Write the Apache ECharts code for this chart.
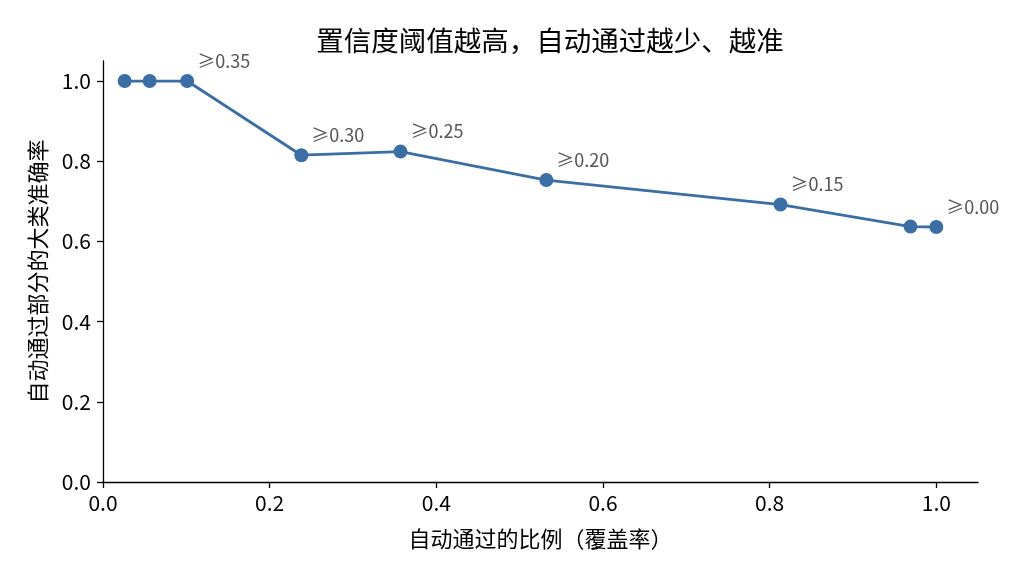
<!DOCTYPE html>
<html>
<head>
<meta charset="utf-8">
<script src="https://cdn.jsdelivr.net/npm/echarts@6/dist/echarts.min.js"></script>
<style>html,body{margin:0;padding:0;background:#fff}#c{width:1024px;height:576px}</style>
</head>
<body>
<div id="c"></div>
<script>
const coverage = [0.026, 0.056, 0.101, 0.238, 0.357, 0.532, 0.813, 0.969, 1.0];
const accuracy = [1.0, 1.0, 1.0, 0.815, 0.824, 0.753, 0.692, 0.637, 0.636];
const thresholdLabels = ['', '', '≥0.35', '≥0.30', '≥0.25', '≥0.20', '≥0.15', '', '≥0.00'];
const xTicks = [0, 0.2, 0.4, 0.6, 0.8, 1.0];
const yTicks = [0, 0.2, 0.4, 0.6, 0.8, 1.0];

const FONT = 'Noto Sans CJK SC';
const COLOR = '#3a6ea5';
const chart = echarts.init(document.getElementById('c'));
const data = coverage.map((x, i) => ({
  value: [x, accuracy[i]],
  label: { show: thresholdLabels[i] !== '', formatter: thresholdLabels[i] }
}));
chart.setOption({
  animation: false,
  textStyle: { fontFamily: FONT },
  title: {
    text: '置信度阈值越高，自动通过越少、越准',
    left: 545, textAlign: 'center', top: 22,
    textStyle: { fontFamily: FONT, fontSize: 27.5, fontWeight: 'normal', color: '#000' }
  },
  grid: { left: 103, right: 46, top: 61, bottom: 94 },
  xAxis: {
    type: 'value', min: 0, max: 1.05,
    name: '自动通过的比例（覆盖率）', nameLocation: 'middle', nameGap: 46,
    nameTextStyle: { fontFamily: FONT, fontSize: 22, color: '#000' },
    axisLine: { lineStyle: { color: '#000', width: 1.3 } },
    axisTick: { show: true, length: 6, inside: false, customValues: xTicks, lineStyle: { color: '#000', width: 1.3 } },
    axisLabel: { customValues: xTicks, formatter: v => v.toFixed(1), fontFamily: FONT, fontSize: 21, color: '#000', margin: 11 },
    splitLine: { show: false }
  },
  yAxis: {
    type: 'value', min: 0, max: 1.05,
    name: '自动通过部分的大类准确率', nameLocation: 'middle', nameGap: 54, nameRotate: 90,
    nameTextStyle: { fontFamily: FONT, fontSize: 22, color: '#000' },
    axisLine: { show: true, lineStyle: { color: '#000', width: 1.3 } },
    axisTick: { show: true, length: 6, inside: false, customValues: yTicks, lineStyle: { color: '#000', width: 1.3 } },
    axisLabel: { customValues: yTicks, formatter: v => v.toFixed(1), fontFamily: FONT, fontSize: 21, color: '#000', margin: 12 },
    splitLine: { show: false }
  },
  series: [{
    type: 'line',
    data: data,
    symbol: 'circle', symbolSize: 14,
    lineStyle: { color: COLOR, width: 2.8 },
    itemStyle: { color: COLOR },
    label: {
      position: 'top', align: 'left', distance: 4, offset: [10, 0],
      fontFamily: FONT, fontSize: 18, color: '#555'
    }
  }]
});
</script>
</body>
</html>
